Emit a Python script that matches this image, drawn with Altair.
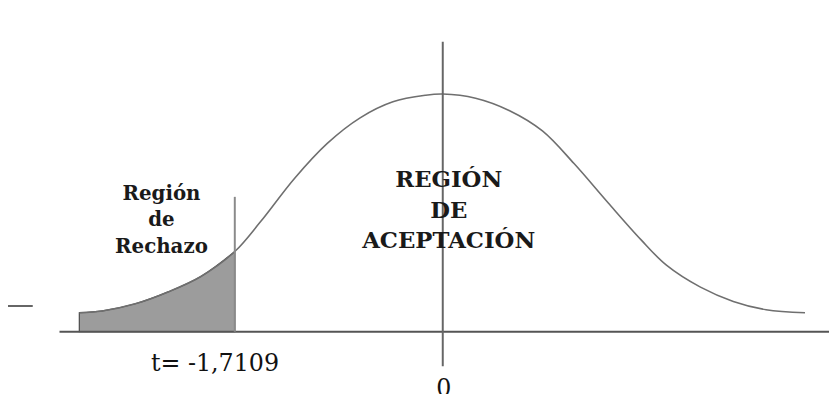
import altair as alt
import pandas as pd

# Curve (t value, height)
curve_t = [-2.99, -2.80, -2.53, -2.26, -1.99, -1.7109, -1.50, -1.22, -0.95, -0.68,
           -0.41, -0.14, 0.0, 0.27, 0.55, 0.82, 1.08, 1.36, 1.63, 1.84, 2.12,
           2.39, 2.66, 2.98]
curve_h = [0.032, 0.035, 0.047, 0.067, 0.093, 0.135, 0.185, 0.258, 0.317, 0.360,
           0.387, 0.398, 0.400, 0.393, 0.372, 0.338, 0.283, 0.217, 0.155, 0.112,
           0.075, 0.051, 0.037, 0.032]

t_crit = -1.7109
labels_left = ["Región", "de", "Rechazo"]
labels_center = ["REGIÓN", "DE", "ACEPTACIÓN"]
crit_label = "t= -1,7109"
zero_label = "0"

X_DOM = [-3.5767, 3.1775]
Y_DOM = [-0.1017, 0.5417]

curve = pd.DataFrame({"t": curve_t, "h": curve_h})
shade = curve[curve["t"] <= t_crit + 1e-9].copy()
shade["base"] = 0.0

xs = alt.Scale(domain=X_DOM, nice=False, zero=False)
ys = alt.Scale(domain=Y_DOM, nice=False, zero=False)

area = alt.Chart(shade).mark_area(
    interpolate="catmull-rom", color="#9c9c9c", stroke="#4a4a4a", strokeWidth=1.2
).encode(
    x=alt.X("t:Q", scale=xs, axis=None),
    y=alt.Y("h:Q", scale=ys, axis=None),
    y2="base:Q",
)

line = alt.Chart(curve).mark_line(
    interpolate="catmull-rom", color="#6f6f6f", strokeWidth=1.6
).encode(
    x=alt.X("t:Q", scale=xs, axis=None),
    y=alt.Y("h:Q", scale=ys, axis=None),
)

rules_df = pd.DataFrame({
    "x1": [-3.153, 0.0, t_crit, -3.577],
    "x2": [3.1775, 0.0, t_crit, -3.373],
    "y1": [0.0, 0.488, 0.227, 0.0433],
    "y2": [0.0, -0.058, 0.0, 0.0433],
    "kind": ["axis", "zero", "crit", "dash"],
})
rules = alt.Chart(rules_df).mark_rule().encode(
    x=alt.X("x1:Q", scale=xs, axis=None),
    x2="x2:Q",
    y=alt.Y("y1:Q", scale=ys, axis=None),
    y2="y2:Q",
    color=alt.Color("kind:N", legend=None,
                    scale=alt.Scale(domain=["axis", "zero", "crit", "dash"],
                                    range=["#555555", "#666666", "#8a8a8a", "#666666"])),
    strokeWidth=alt.StrokeWidth("kind:N", legend=None,
                                scale=alt.Scale(domain=["axis", "zero", "crit", "dash"],
                                                range=[2, 2, 1.5, 1.5])),
)

left_df = pd.DataFrame({
    "txt": labels_left,
    "x": [-2.314] * 3,
    "y": [0.2217, 0.1783, 0.1317],
})
left_text = alt.Chart(left_df).mark_text(
    font="DejaVu Serif", fontWeight="bold", fontSize=20, color="#1a1a1a",
    align="center", baseline="alphabetic"
).encode(
    x=alt.X("x:Q", scale=xs, axis=None),
    y=alt.Y("y:Q", scale=ys, axis=None),
    text="txt:N",
)

center_df = pd.DataFrame({
    "txt": labels_center,
    "x": [0.049] * 3,
    "y": [0.2433, 0.1917, 0.1417],
})
center_text = alt.Chart(center_df).mark_text(
    font="DejaVu Serif", fontWeight="bold", fontSize=23, color="#1a1a1a",
    align="center", baseline="alphabetic"
).encode(
    x=alt.X("x:Q", scale=xs, axis=None),
    y=alt.Y("y:Q", scale=ys, axis=None),
    text="txt:N",
)

reg_df = pd.DataFrame({
    "txt": [crit_label, zero_label],
    "x": [-1.874, 0.008],
    "y": [-0.0667, -0.1083],
})
reg_text = alt.Chart(reg_df).mark_text(
    font="DejaVu Serif", fontSize=24, color="#111111",
    align="center", baseline="alphabetic"
).encode(
    x=alt.X("x:Q", scale=xs, axis=None),
    y=alt.Y("y:Q", scale=ys, axis=None),
    text="txt:N",
)

chart = alt.layer(area, line, rules, left_text, center_text, reg_text).properties(
    width=829, height=386, padding=0,
    autosize=alt.AutoSizeParams(type="none"),
).configure(background="white", view=alt.ViewConfig(stroke=None))

chart.save("out.html", embed_options={"renderer": "svg", "actions": False})
